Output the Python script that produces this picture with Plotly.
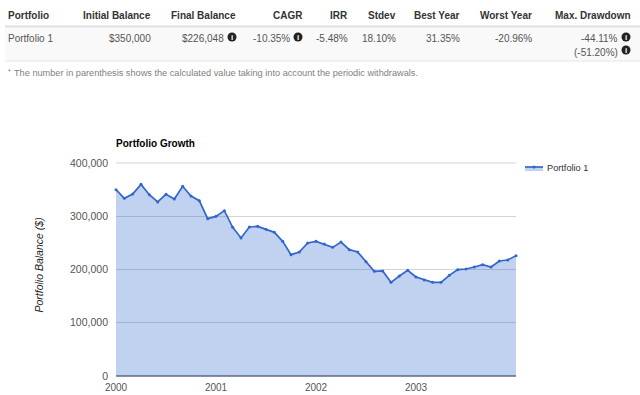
import plotly.graph_objects as go

balance = [350000, 333600, 341800, 359900, 340500, 326800, 341200, 332400, 356200, 338000,
           329300, 295500, 299800, 310500, 279200, 259200, 279800, 281000, 275400, 269800,
           252900, 227900, 232900, 249800, 252900, 247900, 241600, 251600, 237200, 232900,
           214700, 196600, 197200, 175900, 187800, 198400, 185900, 180300, 175900, 175900,
           189000, 199700, 200900, 204700, 209000, 204700, 216000, 217800, 226048]
month_index = list(range(len(balance)))
year_ticks = [0, 12, 24, 36]
year_labels = ["2000", "2001", "2002", "2003"]
y_ticks = [0, 100000, 200000, 300000, 400000]

headers = ["Initial Balance", "Final Balance", "CAGR", "IRR", "Stdev", "Best Year", "Worst Year", "Max. Drawdown"]
header_right = [151, 236, 303, 348, 396, 460, 532, 631]
row_values = ["$350,000", "$226,048", "-10.35%", "-5.48%", "18.10%", "31.35%", "-20.96%", "-44.11%"]
row_right = [151, 224, 290, 348, 396, 460, 532, 618]
icon_pos = [(232, 37), (298, 37), (626, 37), (626, 50)]

W, H = 640, 395
L, R, T, B = 116, 516, 163, 376
FONT = "Liberation Sans, Arial, sans-serif"
px = lambda v: (v - L) / (R - L)
py = lambda v: (B - v) / (B - T)

fig = go.Figure(go.Scatter(
    x=month_index, y=balance, name="Portfolio 1", mode="lines+markers",
    line=dict(color="#3366cc", width=1.7), marker=dict(color="#3366cc", size=3),
    fill="tozeroy", fillcolor="rgba(51,102,204,0.3)", hoverinfo="skip", cliponaxis=False,
))

ann = []
def text(x, y, s, anchor="left", size=10, color="#444444", **kw):
    ann.append(dict(xref="paper", yref="paper", x=px(x), y=py(y), text=s, showarrow=False,
                    xanchor=anchor, yanchor="middle", align=anchor,
                    font=dict(family=FONT, size=size, color=color),
                    borderpad=0, borderwidth=0, **kw))

text(8, 15, "<b>Portfolio</b>", color="#333333")
for s, r in zip(headers, header_right):
    text(r, 15, f"<b>{s}</b>", "right", color="#333333")
text(8, 38.5, "Portfolio 1", color="#555555")
for s, r in zip(row_values, row_right):
    text(r, 38.5, s, "right", color="#555555")
text(618, 52, "(-51.20%)", "right", color="#555555")
text(8, 71, "*", size=7, color="#777777")
text(14, 73, "The number in parenthesis shows the calculated value taking into account the periodic withdrawals.", size=9.2, color="#808080")
text(116, 143, "<b>Portfolio Growth</b>", color="#000000")
text(38, 265.5, "<i>Portfolio Balance ($)</i>", "center", size=10.5, color="#222222", textangle=-90)
text(547, 168, "Portfolio 1", size=9.2, color="#333333")

def rule(x0, x1, y, color, width):
    return dict(type="line", xref="paper", yref="paper", x0=px(x0), x1=px(x1), y0=py(y), y1=py(y),
                line=dict(color=color, width=width))

shapes = [
    dict(type="rect", xref="paper", yref="paper", x0=px(5), x1=px(640), y0=py(28), y1=py(61),
         fillcolor="#f9f9f9", line_width=0, layer="below"),
    rule(5, 640, 26.5, "#dddddd", 2),
    rule(5, 640, 61, "#e6e6e6", 1),
    rule(L, R, T, "#d4d4d4", 1),
    # legend swatch
    dict(type="rect", xref="paper", yref="paper", x0=px(525), x1=px(543), y0=py(171), y1=py(167),
         fillcolor="rgba(51,102,204,0.3)", line_width=0),
    rule(525, 543, 167, "#3366cc", 1.7),
    dict(type="circle", xref="paper", yref="paper", x0=px(532.5), x1=px(535.5), y0=py(168.5), y1=py(165.5),
         fillcolor="#3366cc", line_width=0),
]
for cx, cy in icon_pos:
    shapes.append(dict(type="circle", xref="paper", yref="paper", x0=px(cx - 4.5), x1=px(cx + 4.5),
                       y0=py(cy + 4.5), y1=py(cy - 4.5), fillcolor="#222222", line_width=0))
    text(cx, cy + 0.5, "<b>i</b>", "center", size=8, color="#ffffff")

fig.update_layout(
    width=W, height=H, autosize=False,
    margin=dict(l=L, r=W - R, t=T, b=H - B, pad=0),
    paper_bgcolor="white", plot_bgcolor="white",
    font=dict(family=FONT, size=11, color="#555555"),
    xaxis=dict(range=[0, 48], tickvals=year_ticks, ticktext=year_labels,
               showgrid=False, zeroline=False, showline=False, ticks="", ticklabelstandoff=4,
               automargin=False, tickfont=dict(size=10, color="#555555")),
    yaxis=dict(range=[0, 400000], tickvals=y_ticks, tickformat=",d",
               gridcolor="#d4d4d4", gridwidth=1, zeroline=True, zerolinecolor="#8a8f9c", zerolinewidth=2,
               showline=False, ticks="", ticklabelstandoff=7,
               automargin=False, tickfont=dict(size=10.5, color="#555555")),
    showlegend=False,
    annotations=ann, shapes=shapes,
)
fig.write_html("out.html", config={"displayModeBar": False},
               post_script="document.body.style.margin='0';")
